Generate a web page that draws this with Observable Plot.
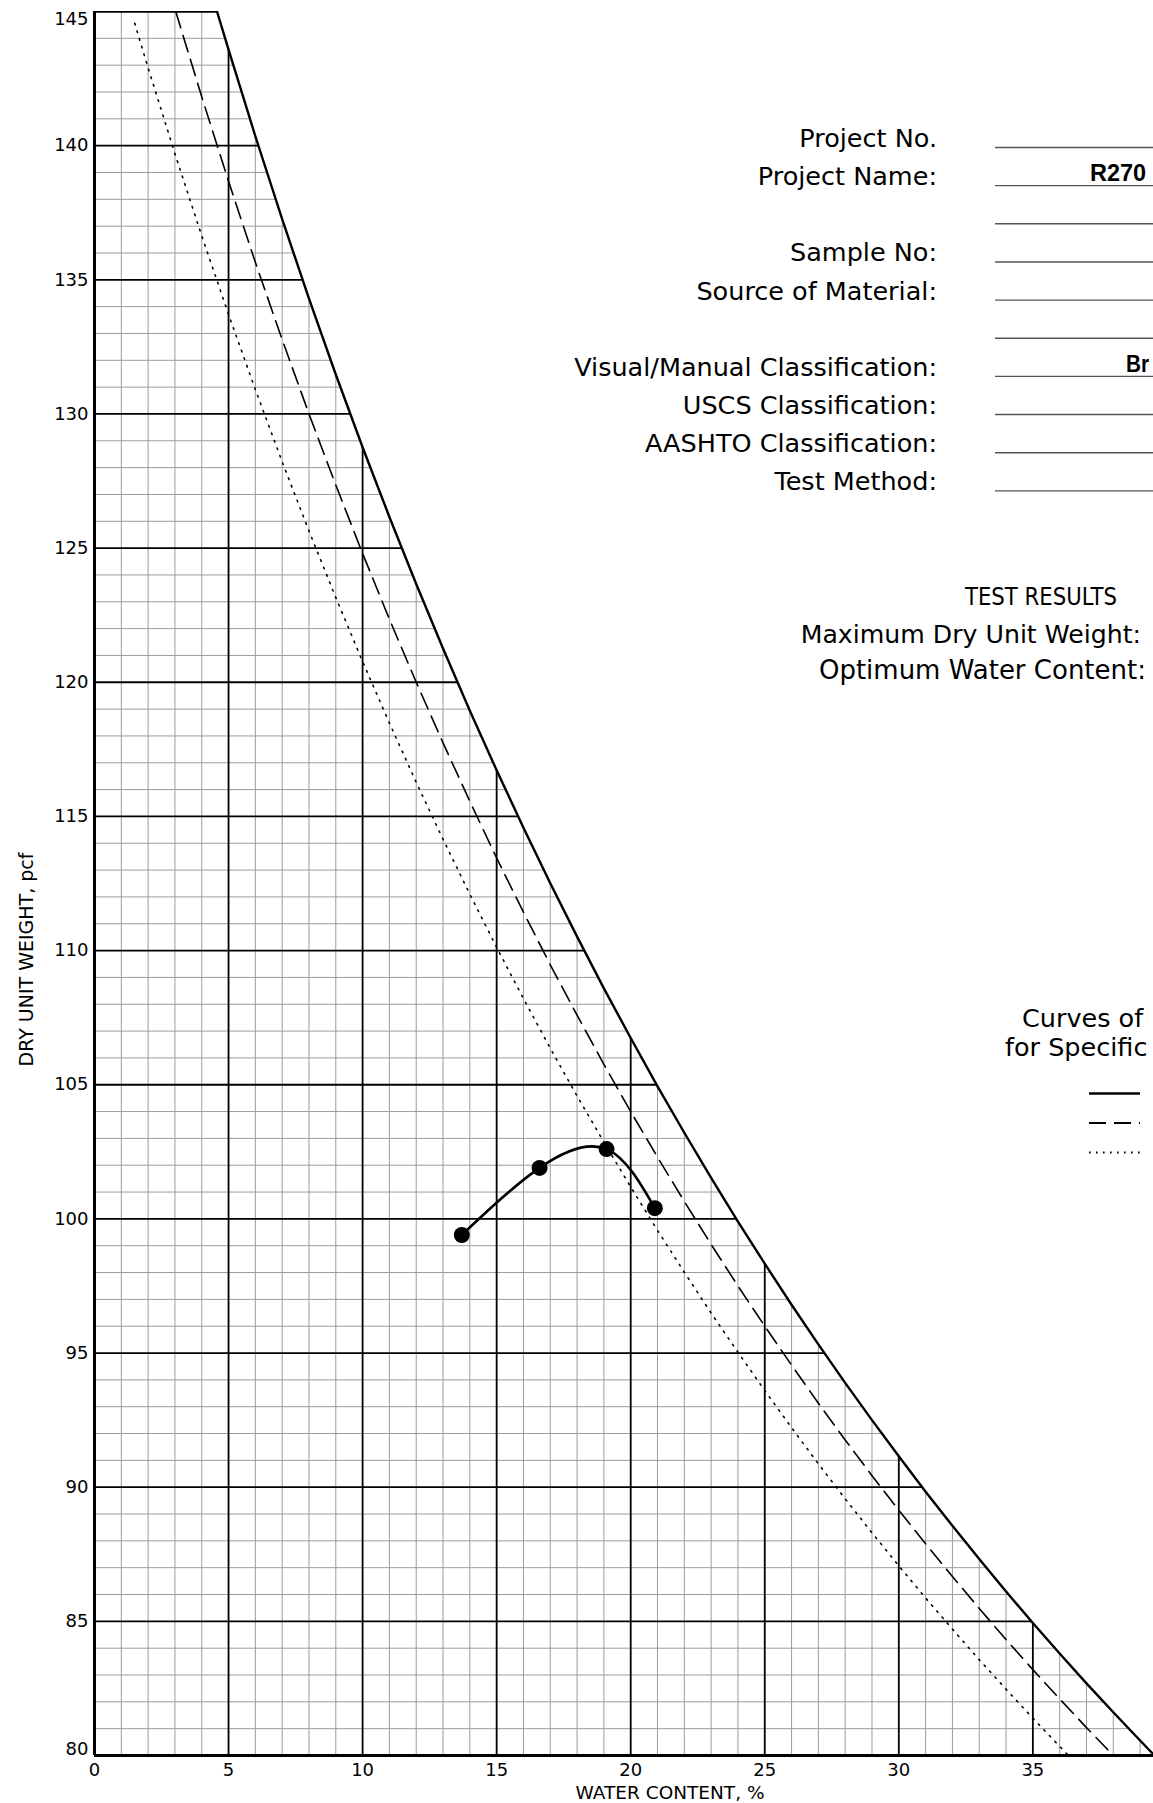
<!DOCTYPE html>
<html><head><meta charset="utf-8">
<script src="https://cdn.jsdelivr.net/npm/d3@7"></script>
<script src="https://cdn.jsdelivr.net/npm/@observablehq/plot@0.6"></script>
<style>
html,body{margin:0;padding:0;background:#fff;overflow:hidden;}
#chart{position:relative;width:1153px;height:1803px;overflow:hidden;}
</style></head><body><div id="chart"></div>
<script>
// ---- Compaction test points (water content %, dry unit weight pcf)
const testWaterContent = [13.7, 16.6, 19.1, 20.9];
const testDryUnitWeight = [99.4, 101.9, 102.6, 100.4];

// ---- 100% saturation curves
// Gs = 2.60 (solid)
const zavWc260 = [0, 4.57, 5, 6, 7, 8, 9, 10, 11, 12, 13, 14, 15, 16, 17, 18, 19, 20, 21, 22, 23, 24, 25, 26, 27, 28, 29, 30, 31, 32, 33, 34, 35, 36, 37, 38, 39, 39.5];
const zavDw260 = [145, 145, 143.58, 140.35, 137.26, 134.30, 131.47, 128.76, 126.16, 123.66, 121.26, 118.94, 116.72, 114.58, 112.51, 110.52, 108.59, 106.74, 104.94, 103.21, 101.53, 99.90, 98.33, 96.80, 95.32, 93.89, 92.50, 91.15, 89.83, 88.56, 87.32, 86.11, 84.94, 83.80, 82.69, 81.61, 80.56, 80.04];
// Gs = 2.50 (dashed)
const zavWc250 = [3.03, 4, 5, 6, 7, 8, 9, 10, 11, 12, 13, 14, 15, 16, 17, 18, 19, 20, 21, 22, 23, 24, 25, 26, 27, 28, 29, 30, 31, 32, 33, 34, 35, 36, 37, 38];
const zavDw250 = [145, 141.82, 138.67, 135.65, 132.77, 130.00, 127.35, 124.80, 122.35, 120.00, 117.74, 115.56, 113.45, 111.43, 109.47, 107.59, 105.76, 104.00, 102.30, 100.65, 99.05, 97.50, 96.00, 94.55, 93.13, 91.76, 90.43, 89.14, 87.89, 86.67, 85.48, 84.32, 83.20, 82.11, 81.04, 80.00];
// Gs = 2.40 (dotted)
const zavWc240 = [1.5, 2, 3, 4, 5, 6, 7, 8, 9, 10, 11, 12, 13, 14, 15, 16, 17, 18, 19, 20, 21, 22, 23, 24, 25, 26, 27, 28, 29, 30, 31, 32, 33, 34, 35, 36, 36.3];
const zavDw240 = [144.56, 142.90, 139.70, 136.64, 133.71, 130.91, 128.22, 125.64, 123.16, 120.77, 118.48, 116.27, 114.15, 112.10, 110.12, 108.21, 106.36, 104.58, 102.86, 101.19, 99.57, 98.01, 96.49, 95.03, 93.60, 92.22, 90.87, 89.57, 88.30, 87.07, 85.87, 84.71, 83.57, 82.47, 81.39, 80.34, 80.03];

// ---- Ticks / grid
const xTicks = [0, 5, 10, 15, 20, 25, 30, 35];
const yTicks = [80, 85, 90, 95, 100, 105, 110, 115, 120, 125, 130, 135, 140, 145];
const xDomain = [0, 39.5];
const yDomain = [80, 145];

// ---- Form text (only the part visible in the cropped reference)
const formLabels = ["Project No.", "Project Name:", "", "Sample No:", "Source of Material:", "", "Visual/Manual Classification:", "USCS Classification:", "AASHTO Classification:", "Test Method:"];
const formValues = ["", "R270", "", "", "", "", "Br", "", "", ""];
const resultsTitle = "TEST RESULTS";
const resultsLabels = ["Maximum Dry Unit Weight:", "Optimum Water Content:"];
const legendTitle = ["Curves of", "for Specific"];
const legendStyles = ["solid", "dashed", "dotted"];

// ---- tables
const toRows = (ws, ds) => ws.map((w, i) => ({w, dw: ds[i]}));
const zav260 = toRows(zavWc260, zavDw260);
const zav250 = toRows(zavWc250, zavDw250);
const zav240 = toRows(zavWc240, zavDw240);
const tests = toRows(testWaterContent, testDryUnitWeight);

const gridXAll = d3.range(1, 40);
const gridYAll = d3.range(81, 145);
const minorX = gridXAll.filter(d => d % 5 !== 0);
const majorX = gridXAll.filter(d => d % 5 === 0);
const minorY = gridYAll.filter(d => d % 5 !== 0);
const majorY = gridYAll.filter(d => d % 5 === 0);

const FONT = "DejaVu Sans";

const svg = Plot.plot({
  width: 1153,
  height: 1803,
  marginLeft: 94,
  marginRight: 0,
  marginTop: 11,
  marginBottom: 48,
  style: {fontFamily: FONT, fontSize: "18px", background: "white", color: "black"},
  x: {domain: xDomain, label: null},
  y: {domain: yDomain, label: null},
  marks: [
    Plot.ruleX(minorX, {y1: yDomain[0], y2: yDomain[1], stroke: "#9c9c9c", strokeWidth: 1}),
    Plot.ruleY(minorY, {x1: xDomain[0], x2: xDomain[1], stroke: "#9c9c9c", strokeWidth: 1}),
    Plot.ruleX(majorX, {y1: yDomain[0], y2: yDomain[1], stroke: "black", strokeWidth: 1.8}),
    Plot.ruleY(majorY, {x1: xDomain[0], x2: xDomain[1], stroke: "black", strokeWidth: 1.8}),
    // white mask above the 2.60 saturation curve
    Plot.areaY(zav260, {x: "w", y1: "dw", y2: yDomain[1], fill: "white", clip: true}),
    // frame
    Plot.ruleX([xDomain[0]], {y1: yDomain[0], y2: yDomain[1], stroke: "black", strokeWidth: 3}),
    Plot.ruleY([yDomain[0]], {x1: xDomain[0], x2: xDomain[1], stroke: "black", strokeWidth: 3}),
    // saturation curves
    Plot.line(zav260, {x: "w", y: "dw", stroke: "black", strokeWidth: 2.4, clip: true}),
    Plot.line(zav250, {x: "w", y: "dw", stroke: "black", strokeWidth: 1.6, strokeDasharray: "17,8", clip: true}),
    Plot.line(zav240, {x: "w", y: "dw", stroke: "black", strokeWidth: 1.6, strokeDasharray: "1.6,6.4", clip: true}),
    // compaction curve
    Plot.line(tests, {x: "w", y: "dw", curve: "natural", stroke: "black", strokeWidth: 2.6}),
    Plot.dot(tests, {x: "w", y: "dw", r: 8, fill: "black", stroke: "none"}),
    // axes
    Plot.axisX(xTicks, {tickSize: 0, tickPadding: 8, fontSize: 18, label: null}),
    Plot.axisY(yTicks.filter(d => d > yDomain[0] && d < yDomain[1]), {tickSize: 0, tickPadding: 6, fontSize: 18, label: null}),
    Plot.text([yDomain[1]], {y: d => d, text: d => String(d), frameAnchor: "left", textAnchor: "end", lineAnchor: "top", dx: -6, dy: 1, fontSize: 18}),
    Plot.text([yDomain[0]], {y: d => d, text: d => String(d), frameAnchor: "left", textAnchor: "end", lineAnchor: "bottom", dx: -6, dy: -1, fontSize: 18}),
    Plot.text(["WATER CONTENT, %"], {frameAnchor: "bottom", textAnchor: "middle", lineAnchor: "bottom", dx: 46, dy: 43, fontSize: 18.5}),
    Plot.text(["DRY UNIT WEIGHT, pcf"], {frameAnchor: "left", textAnchor: "middle", lineAnchor: "middle", rotate: -90, dx: -68, dy: 76, fontSize: 19})
  ]
});

document.getElementById("chart").appendChild(svg);

// ---- form block drawn into the same SVG
const root = d3.select(svg);
const form = root.append("g").attr("font-family", FONT).attr("fill", "black").attr("text-anchor", "start");
const labelRight = 937, lineStart = 995, rowTop = 147, rowStep = 38.15;
formLabels.forEach((lab, i) => {
  const y = rowTop + i * rowStep;
  if (lab) form.append("text").attr("x", labelRight).attr("y", y).attr("text-anchor", "end").attr("font-size", 25.5).text(lab);
  form.append("line").attr("x1", lineStart).attr("x2", 1160).attr("y1", y + 0.5).attr("y2", y + 0.5)
    .attr("stroke", "#555").attr("stroke-width", 1.4);
});
const valueX = {1: 1090, 6: 1126};
const valueW = {1: 56, 6: 23};
formValues.forEach((v, i) => {
  if (!v) return;
  form.append("text").attr("x", valueX[i]).attr("y", rowTop + i * rowStep - 4)
    .attr("text-anchor", "start")
    .attr("font-family", "Liberation Sans").attr("font-weight", "bold").attr("font-size", 23.5)
    .attr("textLength", valueW[i]).attr("lengthAdjust", "spacingAndGlyphs").text(v);
});
form.append("text").attr("x", 1041).attr("y", 605).attr("text-anchor", "middle").attr("font-size", 25.5)
  .attr("textLength", 152).attr("lengthAdjust", "spacingAndGlyphs").text(resultsTitle);
form.append("text").attr("x", 1141).attr("y", 643).attr("text-anchor", "end").attr("font-size", 25.2).text(resultsLabels[0]);
form.append("text").attr("x", 1146).attr("y", 679).attr("text-anchor", "end").attr("font-size", 26).text(resultsLabels[1]);
form.append("text").attr("x", 1022).attr("y", 1027).attr("text-anchor", "start").attr("font-size", 25.5).text(legendTitle[0]);
form.append("text").attr("x", 1005).attr("y", 1056).attr("text-anchor", "start").attr("font-size", 25.5).text(legendTitle[1]);
const dash = {solid: null, dashed: "17,8", dotted: "1.6,5.4"};
const sw = {solid: 2.6, dashed: 1.8, dotted: 1.8};
legendStyles.forEach((s, i) => {
  const y = 1093.5 + i * 29.5;
  const l = form.append("line").attr("x1", 1089).attr("x2", 1140).attr("y1", y).attr("y2", y)
    .attr("stroke", "black").attr("stroke-width", sw[s]);
  if (dash[s]) l.attr("stroke-dasharray", dash[s]);
});
</script>
</body></html>
